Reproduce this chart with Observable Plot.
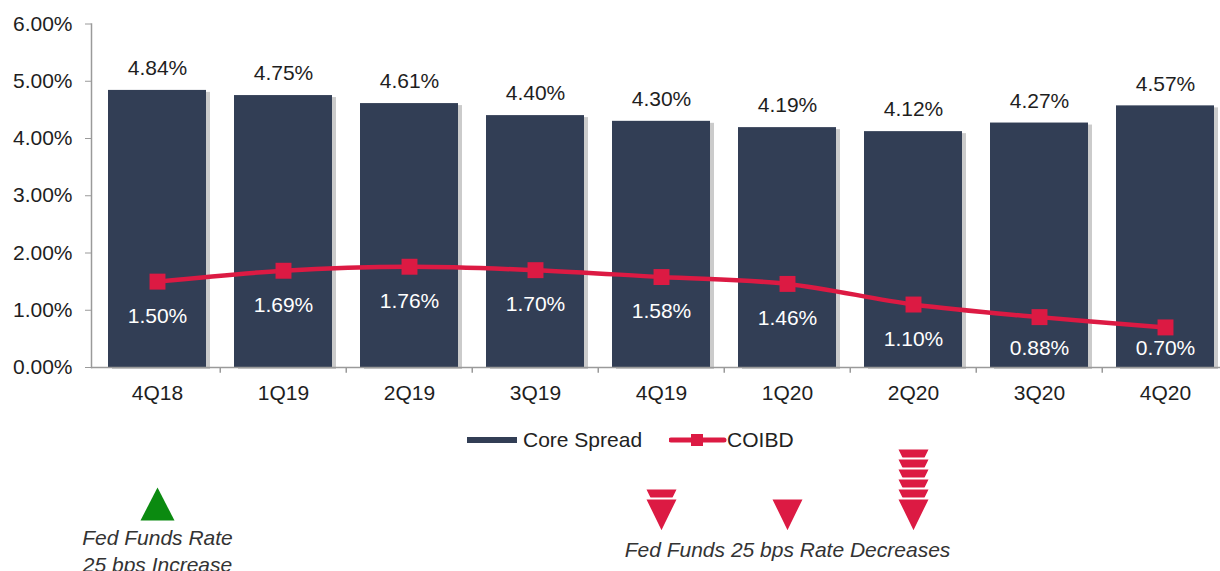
<!DOCTYPE html>
<html>
<head>
<meta charset="utf-8">
<script src="https://cdn.jsdelivr.net/npm/d3@7"></script>
<script src="https://cdn.jsdelivr.net/npm/@observablehq/plot@0.6"></script>
<style>
  body { margin: 0; background: #fff; font-family: "Liberation Sans", Arial, sans-serif; }
  #wrap { position: relative; width: 1220px; height: 571px; overflow: hidden; }
  #wrap > * { position: absolute; }
  #legend { left: 467px; top: 428px; display: flex; align-items: center; font-size: 21px; color: #222; }
  #legend .item { display: flex; align-items: center; }
</style>
</head>
<body>
<div id="wrap"></div>
<script>
// ---- data ----
const quarters = ["4Q18","1Q19","2Q19","3Q19","4Q19","1Q20","2Q20","3Q20","4Q20"];
const coreSpread = [4.84, 4.75, 4.61, 4.40, 4.30, 4.19, 4.12, 4.27, 4.57];
const coibd = [1.50, 1.69, 1.76, 1.70, 1.58, 1.46, 1.10, 0.88, 0.70];
const yTicks = [0, 1, 2, 3, 4, 5, 6];
const seriesNames = ["Core Spread", "COIBD"];
const rateDecreaseQuarters = ["4Q19", "1Q20", "2Q20"];
const rateDecreaseCounts = [2, 1, 6];
const rateIncreaseQuarters = ["4Q18"];
const increaseLabel = "Fed Funds Rate\n25 bps Increase";
const decreaseLabel = "Fed Funds 25 bps Rate Decreases";
const decreaseLabelQuarter = "1Q20";

// ---- styles ----
const NAVY = "#323e55";
const RED = "#dc1a43";
const GREEN = "#0b8a10";
const FONT = "Liberation Sans, Arial, sans-serif";
const FS = 21;

const rows = quarters.map((q, i) => ({q, core: coreSpread[i], coibd: coibd[i]}));
const xOpts = {domain: quarters, range: [91.75, 1230.25], paddingInner: 0.22, paddingOuter: 0.11};

const chart = Plot.plot({
  width: 1220, height: 420,
  marginLeft: 91, marginRight: 0, marginTop: 23.5, marginBottom: 53,
  style: {fontFamily: FONT, background: "transparent"},
  x: {...xOpts, axis: null},
  y: {domain: [0, 6], axis: null},
  marks: [
    // shadow
    Plot.barY(rows, {x: "q", y: "core", fill: "#8c8c8c", fillOpacity: 0.45, dx: 4, dy: 2}),
    Plot.barY(rows, {x: "q", y: "core", fill: NAVY}),
    Plot.ruleY([0], {stroke: "#9a9a9a", strokeWidth: 1.5}),
    Plot.frame({anchor: "left", stroke: "#9a9a9a", strokeWidth: 1.5}),
    Plot.ruleX(quarters.slice(1), {x: d => d, dx: -63.25, y1: 0, y2: -0.1, stroke: "#9a9a9a", strokeWidth: 1.5}),
    Plot.axisY({ticks: yTicks, tickSize: 6, tickPadding: 13, fontSize: FS, tickFormat: d => d.toFixed(2) + "%", stroke: "#9a9a9a", fill: "#1e1e1e", label: null}),
    Plot.axisX({tickSize: 0, tickPadding: 18, fontSize: FS, fill: "#1e1e1e", label: null}),
    Plot.text(rows, {x: "q", y: "core", text: d => d.core.toFixed(2) + "%", dy: -22, fontSize: FS, fill: "#1e1e1e"}),
    Plot.line(rows, {x: "q", y: "coibd", stroke: RED, strokeWidth: 4.5, curve: "catmull-rom"}),
    Plot.dot(rows, {x: "q", y: "coibd", symbol: "square", r: 9, fill: RED}),
    Plot.text(rows, {x: "q", y: d => Math.max(d.coibd - 0.6, 0.33), text: d => d.coibd.toFixed(2) + "%", fontSize: FS, fill: "#fff"})
  ]
});
chart.style.left = "0px"; chart.style.top = "0px";

// annotation panel
const triDown = {draw(ctx, size) { const r = Math.sqrt(size / Math.PI), h = r * 2.05; ctx.moveTo(-r, -h / 2); ctx.lineTo(r, -h / 2); ctx.lineTo(0, h / 2); ctx.closePath(); }};
const triUp = {draw(ctx, size) { const r = Math.sqrt(size / Math.PI), h = r * 1.95; ctx.moveTo(-r, h / 2); ctx.lineTo(r, h / 2); ctx.lineTo(0, -h / 2); ctx.closePath(); }};
const stacks = [];
rateDecreaseQuarters.forEach((q, j) => { for (let i = 0; i < rateDecreaseCounts[j]; i++) stacks.push({q, i}); });
stacks.sort((a, b) => b.i - a.i);

const notes = Plot.plot({
  width: 1220, height: 151,
  marginLeft: 91, marginRight: 0, marginTop: 0, marginBottom: 0,
  style: {fontFamily: FONT, background: "transparent", overflow: "visible"},
  x: {...xOpts, axis: null},
  y: {domain: [0, 10], range: [95, -5], axis: null},
  marks: [
    Plot.dot(stacks, {x: "q", y: "i", symbol: triDown, r: 16.5, fill: RED, stroke: "#fff", strokeWidth: 2}),
    Plot.dot(rateIncreaseQuarters, {x: d => d, y: () => 0, symbol: triUp, r: 17, fill: GREEN, dy: -11.5}),
    Plot.text([increaseLabel], {x: () => rateIncreaseQuarters[0], frameAnchor: "top", lineAnchor: "middle", dy: 129.5, text: d => d, fontSize: FS, fontStyle: "italic", fill: "#333", lineHeight: 1.3}),
    Plot.text([decreaseLabel], {x: () => decreaseLabelQuarter, frameAnchor: "top", lineAnchor: "middle", dy: 130, text: d => d, fontSize: FS, fontStyle: "italic", fill: "#333"})
  ]
});
notes.style.left = "0px"; notes.style.top = "420px";

const legend = document.createElement("div");
legend.id = "legend";
legend.innerHTML = `
  <div class="item" style="margin-right:27px"><svg width="56" height="12"><rect x="0" y="3" width="50" height="6" fill="${NAVY}"/></svg><span>${seriesNames[0]}</span></div>
  <div class="item"><svg width="58" height="14"><line x1="2" y1="7" x2="55" y2="7" stroke="${RED}" stroke-width="5" stroke-linecap="round"/><rect x="22" y="1" width="12" height="12" fill="${RED}"/></svg><span>${seriesNames[1]}</span></div>`;

const wrap = document.getElementById("wrap");
wrap.append(chart, notes, legend);
</script>
</body>
</html>
